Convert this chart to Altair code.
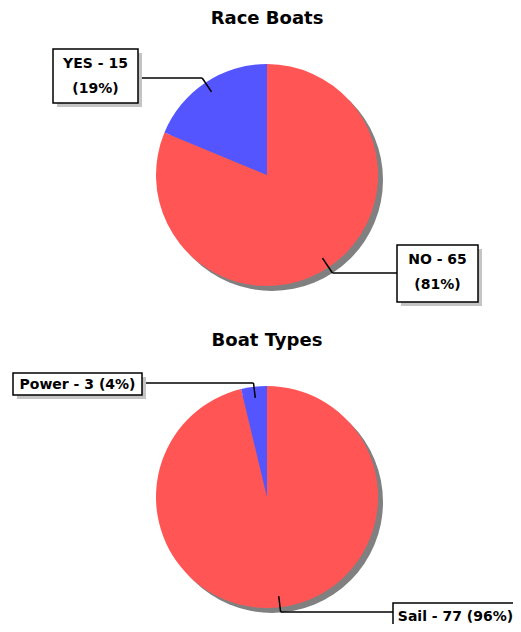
import math
import altair as alt
import pandas as pd

# ---- data ----
race_labels = ["NO", "YES"]
race_counts = [65, 15]
type_labels = ["Sail", "Power"]
type_counts = [77, 3]
slice_colors = ["#FF5555", "#5555FF"]
titles = ["Race Boats", "Boat Types"]

# ---- layout (page pixels; chart origin is at the 8px page margin) ----
M = 8
R = 111
centers = [(267, 175), (267, 497)]
title_y = [19, 341]
# label boxes: (x0, y0, x1, y1, connector_y, two_line)
boxes = {
    "YES": (53, 49, 138, 103, 78, True),
    "NO": (397, 245, 478, 302, 273, True),
    "Power": (13, 373, 142, 395, 383, False),
    "Sail": (393, 603, 518, 628, 612, False),
}

pie_frames = []
seg_rows, box_rows, shadow_rows, text_rows = [], [], [], []
for pi, (labs, cnts) in enumerate([(race_labels, race_counts), (type_labels, type_counts)]):
    total = sum(cnts)
    cx, cy = centers[pi]
    df = pd.DataFrame({
        "label": labs,
        "count": cnts,
        "idx": list(range(len(labs))),
        "col": slice_colors[: len(labs)],
    })
    pie_frames.append(df)
    cum = 0
    for lab, c in zip(labs, cnts):
        mid = (cum + c / 2) / total
        cum += c
        ang = 2 * math.pi * mid
        sx, sy = math.sin(ang), -math.cos(ang)
        ax, ay = cx + 0.9 * R * sx, cy + 0.9 * R * sy
        x0, y0, x1, y1, conn_y, two = boxes[lab]
        t = (conn_y - ay) / sy
        ex, ey = ax + t * sx, conn_y
        bx = x1 if ex > x1 else x0
        seg_rows.append({"x": ax - M, "y": ay - M, "x2": ex - M, "y2": ey - M})
        seg_rows.append({"x": ex - M, "y": ey - M, "x2": bx - M, "y2": ey - M})
        box_rows.append({"x": x0 - M, "y": y0 - M, "x2": x1 - M, "y2": y1 - M})
        shadow_rows.append({"x": x0 + 4 - M, "y": y0 + 4 - M, "x2": x1 + 4 - M, "y2": y1 + 4 - M})
        pct = round(100 * c / total)
        tx = (x0 + x1) / 2 - M
        if two:
            text_rows.append({"x": tx, "y": y0 + 15 - M, "text": f"{lab} - {c}"})
            text_rows.append({"x": tx, "y": y0 + 40 - M, "text": f"({pct}%)"})
        else:
            text_rows.append({"x": tx, "y": (y0 + y1) / 2 + 1 - M, "text": f"{lab} - {c} ({pct}%)"})

W, H = 505, 616
layers = []

def px(field):
    return alt.X(f"{field}:Q", scale=None, axis=None)

def py(field):
    return alt.Y(f"{field}:Q", scale=None, axis=None)

for pi, df in enumerate(pie_frames):
    cx, cy = centers[pi]
    shadow = alt.Chart(pd.DataFrame({"v": [1]})).mark_arc(
        radius=R, theta=0, theta2=2 * math.pi, color="#808080", strokeWidth=0
    ).encode(x=alt.value(cx + 5 - M), y=alt.value(cy + 5 - M))
    pie = alt.Chart(df).mark_arc(radius=R, strokeWidth=0).encode(
        theta=alt.Theta("count:Q", stack=True),
        order=alt.Order("idx:Q"),
        color=alt.Color("col:N", scale=None),
        x=alt.value(cx - M),
        y=alt.value(cy - M),
    )
    title = alt.Chart(pd.DataFrame({"t": [titles[pi]]})).mark_text(
        font="DejaVu Sans", fontWeight="bold", fontSize=18, color="black",
        align="center", baseline="middle",
    ).encode(text="t:N", x=alt.value(cx - M), y=alt.value(title_y[pi] - M))
    layers += [shadow, pie, title]

segs = alt.Chart(pd.DataFrame(seg_rows)).mark_rule(color="black", strokeWidth=1.5).encode(
    x=px("x"), y=py("y"), x2="x2:Q", y2="y2:Q")
bshadow = alt.Chart(pd.DataFrame(shadow_rows)).mark_rect(color="#C4C4C4").encode(
    x=px("x"), y=py("y"), x2="x2:Q", y2="y2:Q")
bbox = alt.Chart(pd.DataFrame(box_rows)).mark_rect(fill="white", stroke="black", strokeWidth=1.5).encode(
    x=px("x"), y=py("y"), x2="x2:Q", y2="y2:Q")
btext = alt.Chart(pd.DataFrame(text_rows)).mark_text(
    font="DejaVu Sans", fontWeight="bold", fontSize=14, color="black",
    align="center", baseline="middle",
).encode(x=px("x"), y=py("y"), text="text:N")

layers += [segs, bshadow, bbox, btext]

chart = alt.layer(*layers).resolve_scale(theta="independent").properties(
    width=W, height=H, padding=0, autosize=alt.AutoSizeParams(type="none")
).configure(background="white").configure_view(strokeWidth=0, stroke=None)

chart.save("out.html", embed_options={"renderer": "svg", "actions": False})
